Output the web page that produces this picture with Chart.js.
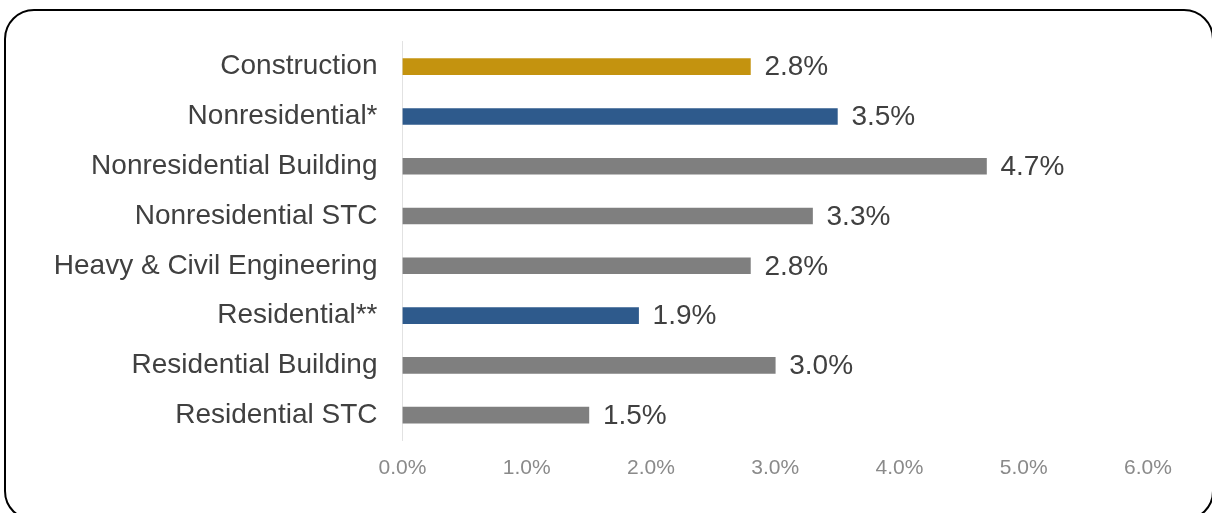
<!DOCTYPE html>
<html>
<head>
<meta charset="utf-8">
<script src="https://cdn.jsdelivr.net/npm/chart.js@4.4.1/dist/chart.umd.min.js"></script>
<style>
  html, body { margin: 0; padding: 0; background: #ffffff; overflow: hidden; }
  #wrap { position: relative; width: 1212px; height: 513px; }
  #c { position: absolute; left: 0; top: 0; }
  #frame { position: absolute; left: 4px; top: 9px; width: 1210px; height: 512px;
           box-sizing: border-box; border: 2px solid #000; border-radius: 30px; pointer-events: none; }
</style>
</head>
<body>
<div id="wrap">
  <canvas id="c" width="1212" height="513"></canvas>
  <div id="frame"></div>
</div>
<script>
const categories = ["Construction", "Nonresidential*", "Nonresidential Building", "Nonresidential STC",
                    "Heavy & Civil Engineering", "Residential**", "Residential Building", "Residential STC"];
const values = [2.8, 3.5, 4.7, 3.3, 2.8, 1.9, 3.0, 1.5];
const barColors = ["#C4930F", "#2E5A8C", "#7F7F7F", "#7F7F7F", "#7F7F7F", "#2E5A8C", "#7F7F7F", "#7F7F7F"];
const xTicks = [0, 1, 2, 3, 4, 5, 6];

const valueLabels = {
  id: 'valueLabels',
  afterDatasetsDraw(chart) {
    const ctx = chart.ctx;
    const xs = chart.scales.x, ys = chart.scales.y;
    ctx.save();
    ctx.font = '28px "Liberation Sans", Arial, sans-serif';
    ctx.fillStyle = '#404040';
    ctx.textAlign = 'left';
    ctx.textBaseline = 'middle';
    values.forEach((v, i) => {
      ctx.fillText(v.toFixed(1) + '%', xs.getPixelForValue(v) + 14, ys.getPixelForValue(i) + 1);
    });
    ctx.restore();
  }
};

new Chart(document.getElementById('c'), {
  type: 'bar',
  data: {
    labels: categories,
    datasets: [{
      data: values,
      backgroundColor: barColors,
      barThickness: 16,
      borderWidth: 0
    }]
  },
  options: {
    indexAxis: 'y',
    responsive: false,
    animation: false,
    devicePixelRatio: 1,
    layout: { padding: { top: 38, right: 64, bottom: 0, left: 0 } },
    plugins: { legend: { display: false }, tooltip: { enabled: false } },
    scales: {
      x: {
        min: 0, max: 6,
        afterFit(scale) { scale.height = 73; },
        afterBuildTicks(scale) { scale.ticks = xTicks.map(v => ({ value: v })); },
        grid: { display: false, drawTicks: false },
        border: { display: false },
        ticks: {
          padding: 16,
          color: '#8a8a8a',
          font: { family: '"Liberation Sans", Arial, sans-serif', size: 21 },
          callback: (v) => Number(v).toFixed(1) + '%'
        }
      },
      y: {
        afterFit(scale) { scale.width = 402.5; },
        grid: { display: false, drawTicks: false },
        border: { display: true, color: '#e2e2e2', width: 1 },
        ticks: {
          padding: 25,
          color: '#404040',
          font: { family: '"Liberation Sans", Arial, sans-serif', size: 28 }
        }
      }
    }
  },
  plugins: [valueLabels]
});
</script>
</body>
</html>
